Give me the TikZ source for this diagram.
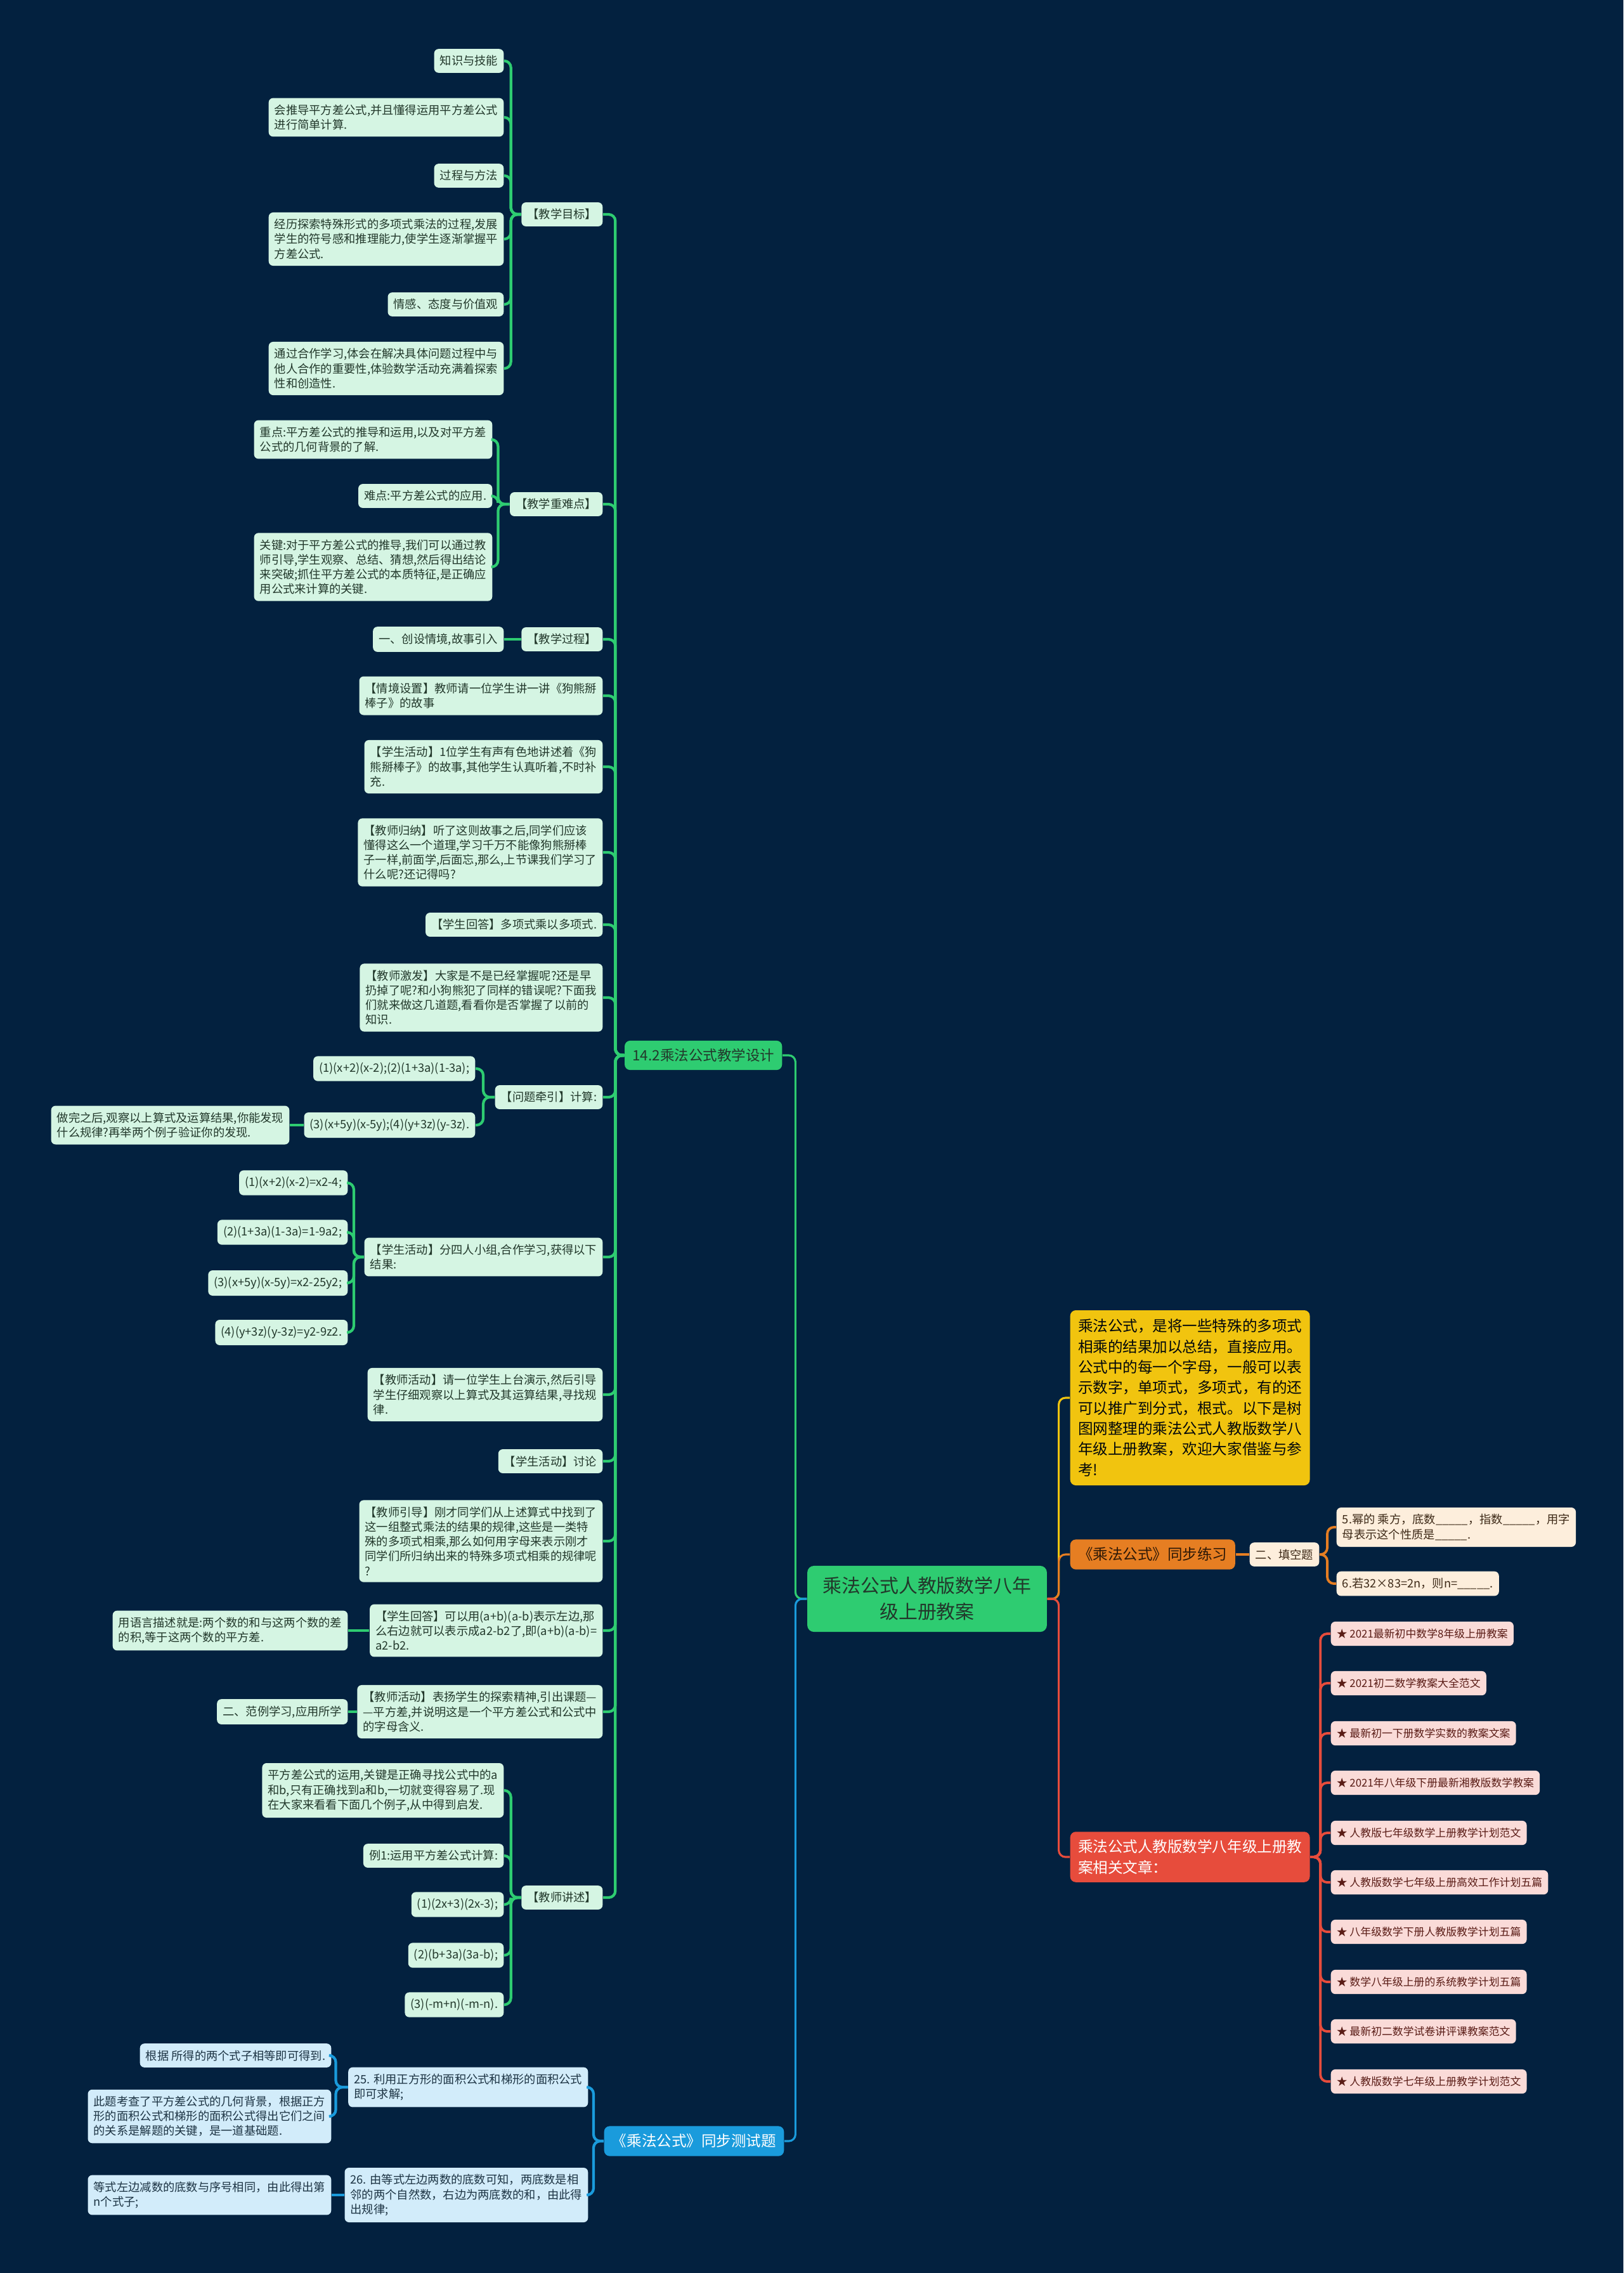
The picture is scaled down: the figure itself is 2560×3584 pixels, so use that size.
\documentclass[tikz,border=0pt]{standalone}
\usepackage{fontspec}
\setmainfont{Noto Sans CJK SC}
\usepackage{tikz}

\definecolor{cBg}{HTML}{03213F}
\definecolor{cGreen}{HTML}{2ECC71}
\definecolor{cMint}{HTML}{D5F5E3}
\definecolor{cMintText}{HTML}{22382B}
\definecolor{cBlue}{HTML}{1A9BDC}
\definecolor{cSky}{HTML}{D2ECFA}
\definecolor{cSkyText}{HTML}{1D3444}
\definecolor{cYellow}{HTML}{F1C40F}
\definecolor{cOrange}{HTML}{E67E22}
\definecolor{cCream}{HTML}{FDEEDC}
\definecolor{cCreamText}{HTML}{3E2A18}
\definecolor{cRed}{HTML}{E74C3C}
\definecolor{cPink}{HTML}{FADBD8}
\definecolor{cPinkText}{HTML}{5A1C16}

\begin{document}
\begin{tikzpicture}[x=0.1mm, y=-0.1mm,
  box/.style={rounded corners=2pt, inner xsep=2.6pt, inner ysep=2.95pt,
    align=left, font=\fontsize{5.2}{6.6}\selectfont},
  leaf/.style={box, fill=cMint, text=cMintText},
  bleaf/.style={box, fill=cSky, text=cSkyText},
  oleaf/.style={box, fill=cCream, text=cCreamText},
  rleaf/.style={box, fill=cPink, text=cPinkText, inner ysep=3.2pt,
    font=\fontsize{4.8}{6}\selectfont},
  topic/.style={rounded corners=2.5pt, inner xsep=3.5pt, inner ysep=3.6pt,
    align=left, font=\fontsize{6.7}{9.2}\selectfont},
  glink/.style={draw=cGreen, line width=1.2pt, rounded corners=3pt},
  blink/.style={draw=cBlue, line width=1.2pt, rounded corners=3pt},
  ylink/.style={draw=cYellow, line width=0.9pt, rounded corners=3pt},
  olink/.style={draw=cOrange, line width=1.1pt, rounded corners=3pt},
  rlink/.style={draw=cRed, line width=1.1pt, rounded corners=3pt}]

\useasboundingbox (0,0) rectangle (2560,3584);
\fill[cBg] (0,0) rectangle (2560,3584);

% Root
\node[fill=cGreen, text=cMintText, rounded corners=3pt, align=center,
  inner xsep=7pt, inner ysep=5pt, font=\fontsize{8.5}{11.7}\selectfont]
  (root) at (1462,2521) {乘法公式人教版数学八年\\级上册教案};

% Left (teaching design) side
\node[topic, fill=cGreen, text=cMintText, anchor=east,
  font=\fontsize{6.4}{8}\selectfont] (design) at (1234,1664) {14.2乘法公式教学设计};

\node[leaf, anchor=east] (goal) at (951,338) {【教学目标】};
\node[leaf, anchor=east] (g1) at (795,96) {知识与技能};
\node[leaf, anchor=east] (g2) at (795,185) {会推导平方差公式,并且懂得运用平方差公式\\进行简单计算.};
\node[leaf, anchor=east] (g3) at (795,277) {过程与方法};
\node[leaf, anchor=east] (g4) at (795,377) {经历探索特殊形式的多项式乘法的过程,发展\\学生的符号感和推理能力,使学生逐渐掌握平\\方差公式.};
\node[leaf, anchor=east] (g5) at (795,480) {情感、态度与价值观};
\node[leaf, anchor=east] (g6) at (795,581) {通过合作学习,体会在解决具体问题过程中与\\他人合作的重要性,体验数学活动充满着探索\\性和创造性.};

\node[leaf, anchor=east] (diff) at (951,795) {【教学重难点】};
\node[leaf, anchor=east] (k1) at (777,693) {重点:平方差公式的推导和运用,以及对平方差\\公式的几何背景的了解.};
\node[leaf, anchor=east] (k2) at (777,782) {难点:平方差公式的应用.};
\node[leaf, anchor=east] (k3) at (777,894) {关键:对于平方差公式的推导,我们可以通过教\\师引导,学生观察、总结、猜想,然后得出结论\\来突破;抓住平方差公式的本质特征,是正确应\\用公式来计算的关键.};

\node[leaf, anchor=east] (proc) at (951,1008) {【教学过程】};
\node[leaf, anchor=east] (intro) at (795,1008) {一、创设情境,故事引入};

\node[leaf, anchor=east] (p1) at (951,1097) {【情境设置】教师请一位学生讲一讲《狗熊掰\\棒子》的故事};
\node[leaf, anchor=east] (p2) at (951,1209) {【学生活动】1位学生有声有色地讲述着《狗\\熊掰棒子》的故事,其他学生认真听着,不时补\\充.};
\node[leaf, anchor=east] (p3) at (951,1344) {【教师归纳】听了这则故事之后,同学们应该\\懂得这么一个道理,学习千万不能像狗熊掰棒\\子一样,前面学,后面忘,那么,上节课我们学习了\\什么呢?还记得吗?};
\node[leaf, anchor=east] (p4) at (951,1458) {【学生回答】多项式乘以多项式.};
\node[leaf, anchor=east] (p5) at (951,1573) {【教师激发】大家是不是已经掌握呢?还是早\\扔掉了呢?和小狗熊犯了同样的错误呢?下面我\\们就来做这几道题,看看你是否掌握了以前的\\知识.};

\node[leaf, anchor=east] (ask) at (951,1730) {【问题牵引】计算:};
\node[leaf, anchor=east] (q1) at (750,1685) {(1)(x+2)(x-2);(2)(1+3a)(1-3a);};
\node[leaf, anchor=east] (q2) at (750,1774) {(3)(x+5y)(x-5y);(4)(y+3z)(y-3z).};
\node[leaf, anchor=east] (q3) at (457,1774) {做完之后,观察以上算式及运算结果,你能发现\\什么规律?再举两个例子验证你的发现.};

\node[leaf, anchor=east] (grp) at (951,1982) {【学生活动】分四人小组,合作学习,获得以下\\结果:};
\node[leaf, anchor=east] (r1) at (549,1865) {(1)(x+2)(x-2)=x2-4;};
\node[leaf, anchor=east] (r2) at (549,1943) {(2)(1+3a)(1-3a)=1-9a2;};
\node[leaf, anchor=east] (r3) at (549,2023) {(3)(x+5y)(x-5y)=x2-25y2;};
\node[leaf, anchor=east] (r4) at (549,2101) {(4)(y+3z)(y-3z)=y2-9z2.};

\node[leaf, anchor=east] (p8) at (951,2199) {【教师活动】请一位学生上台演示,然后引导\\学生仔细观察以上算式及其运算结果,寻找规\\律.};
\node[leaf, anchor=east] (talk) at (951,2304) {【学生活动】讨论};
\node[leaf, anchor=east] (p10) at (951,2430) {【教师引导】刚才同学们从上述算式中找到了\\这一组整式乘法的结果的规律,这些是一类特\\殊的多项式相乘,那么如何用字母来表示刚才\\同学们所归纳出来的特殊多项式相乘的规律呢\\?};
\node[leaf, anchor=east] (ans) at (951,2571) {【学生回答】可以用(a+b)(a-b)表示左边,那\\么右边就可以表示成a2-b2了,即(a+b)(a-b)=\\a2-b2.};
\node[leaf, anchor=east] (words) at (549,2571) {用语言描述就是:两个数的和与这两个数的差\\的积,等于这两个数的平方差.};
\node[leaf, anchor=east] (praise) at (951,2699) {【教师活动】表扬学生的探索精神,引出课题—\\—平方差,并说明这是一个平方差公式和公式中\\的字母含义.};
\node[leaf, anchor=east] (demo) at (549,2699) {二、范例学习,应用所学};

\node[leaf, anchor=east] (lect) at (951,2992) {【教师讲述】};
\node[leaf, anchor=east] (s1) at (795,2823) {平方差公式的运用,关键是正确寻找公式中的a\\和b,只有正确找到a和b,一切就变得容易了.现\\在大家来看看下面几个例子,从中得到启发.};
\node[leaf, anchor=east] (s2) at (795,2926) {例1:运用平方差公式计算:};
\node[leaf, anchor=east] (s3) at (795,3003) {(1)(2x+3)(2x-3);};
\node[leaf, anchor=east] (s4) at (795,3083) {(2)(b+3a)(3a-b);};
\node[leaf, anchor=east] (s5) at (795,3161) {(3)(-m+n)(-m-n).};

\draw[glink, line width=0.9pt] (root.west) -- ++(-18,0) |- (design.east);
\foreach \c in {goal,diff,proc,p1,p2,p3,p4,p5,ask,grp,p8,talk,p10,ans,praise,lect}
  \draw[glink] (design.west) -- ++(-14,0) |- (\c.east);
\foreach \c in {g1,g2,g3,g4,g5,g6}
  \draw[glink] (goal.west) -- ++(-16,0) |- (\c.east);
\foreach \c in {k1,k2,k3}
  \draw[glink] (diff.west) -- ++(-18,0) |- (\c.east);
\draw[glink] (proc.west) -- (intro.east);
\foreach \c in {q1,q2}
  \draw[glink] (ask.west) -- ++(-18,0) |- (\c.east);
\draw[glink] (q2.west) -- (q3.east);
\foreach \c in {r1,r2,r3,r4}
  \draw[glink] (grp.west) -- ++(-16,0) |- (\c.east);
\draw[glink] (ans.west) -- (words.east);
\draw[glink] (praise.west) -- (demo.east);
\foreach \c in {s1,s2,s3,s4,s5}
  \draw[glink] (lect.west) -- ++(-16,0) |- (\c.east);

% Left (test) side
\node[topic, fill=cBlue, text=white, anchor=east] (test) at (1237,3376) {《乘法公式》同步测试题};
\node[bleaf, anchor=east] (t1) at (928,3291) {25. 利用正方形的面积公式和梯形的面积公式\\即可求解;};
\node[bleaf, anchor=east] (t2) at (928,3461) {26. 由等式左边两数的底数可知，两底数是相\\邻的两个自然数，右边为两底数的和，由此得\\出规律;};
\node[bleaf, anchor=east] (u1) at (523,3241) {根据 所得的两个式子相等即可得到.};
\node[bleaf, anchor=east] (u2) at (523,3337) {此题考查了平方差公式的几何背景，根据正方\\形的面积公式和梯形的面积公式得出它们之间\\的关系是解题的关键，是一道基础题.};
\node[bleaf, anchor=east] (u3) at (523,3461) {等式左边减数的底数与序号相同，由此得出第\\n个式子;};

\draw[blink, line width=0.9pt] (root.west) -- ++(-18,0) |- (test.east);
\foreach \c in {t1,t2}
  \draw[blink] (test.west) -- ++(-16,0) |- (\c.east);
\foreach \c in {u1,u2}
  \draw[blink] (t1.west) -- ++(-19,0) |- (\c.east);
\draw[blink] (t2.west) -- (u3.east);

% Right side
\node[topic, fill=cYellow, text=black!80!cBg, anchor=west,
  inner ysep=4pt] (intro2) at (1687,2204)
  {乘法公式，是将一些特殊的多项式\\相乘的结果加以总结，直接应用。\\公式中的每一个字母，一般可以表\\示数字，单项式，多项式，有的还\\可以推广到分式，根式。以下是树\\图网整理的乘法公式人教版数学八\\年级上册教案，欢迎大家借鉴与参\\考!};

\node[topic, fill=cOrange, text=black!80!cOrange, anchor=west] (drill) at (1687,2451) {《乘法公式》同步练习};
\node[oleaf, anchor=west] (blank) at (1970,2451) {二、填空题};
\node[oleaf, anchor=west] (f1) at (2107,2408) {5.幂的 乘方，底数\_\_\_\_\_，指数\_\_\_\_\_，用字\\母表示这个性质是\_\_\_\_\_.};
\node[oleaf, anchor=west] (f2) at (2107,2497) {6.若32×83=2n，则n=\_\_\_\_\_.};

\node[topic, fill=cRed, text=white, anchor=west] (more) at (1687,2928) {乘法公式人教版数学八年级上册教\\案相关文章：};
\node[rleaf, anchor=west] (a1) at (2098,2576) {★ 2021最新初中数学8年级上册教案};
\node[rleaf, anchor=west] (a2) at (2098,2654) {★ 2021初二数学教案大全范文};
\node[rleaf, anchor=west] (a3) at (2098,2733) {★ 最新初一下册数学实数的教案文案};
\node[rleaf, anchor=west] (a4) at (2098,2811) {★ 2021年八年级下册最新湘教版数学教案};
\node[rleaf, anchor=west] (a5) at (2098,2890) {★ 人教版七年级数学上册教学计划范文};
\node[rleaf, anchor=west] (a6) at (2098,2968) {★ 人教版数学七年级上册高效工作计划五篇};
\node[rleaf, anchor=west] (a7) at (2098,3046) {★ 八年级数学下册人教版教学计划五篇};
\node[rleaf, anchor=west] (a8) at (2098,3125) {★ 数学八年级上册的系统教学计划五篇};
\node[rleaf, anchor=west] (a9) at (2098,3203) {★ 最新初二数学试卷讲评课教案范文};
\node[rleaf, anchor=west] (a10) at (2098,3282) {★ 人教版数学七年级上册教学计划范文};

\draw[ylink] (root.east) -- ++(18,0) |- (intro2.west);
\draw[olink, line width=0.9pt] (root.east) -- ++(18,0) |- (drill.west);
\draw[rlink, line width=0.9pt] (root.east) -- ++(18,0) |- (more.west);
\draw[olink] (drill.east) -- (blank.west);
\foreach \c in {f1,f2}
  \draw[olink] (blank.east) -- ++(12,0) |- (\c.west);
\foreach \c in {a1,a2,a3,a4,a5,a6,a7,a8,a9,a10}
  \draw[rlink] (more.east) -- ++(16,0) |- (\c.west);
\end{tikzpicture}
\end{document}
